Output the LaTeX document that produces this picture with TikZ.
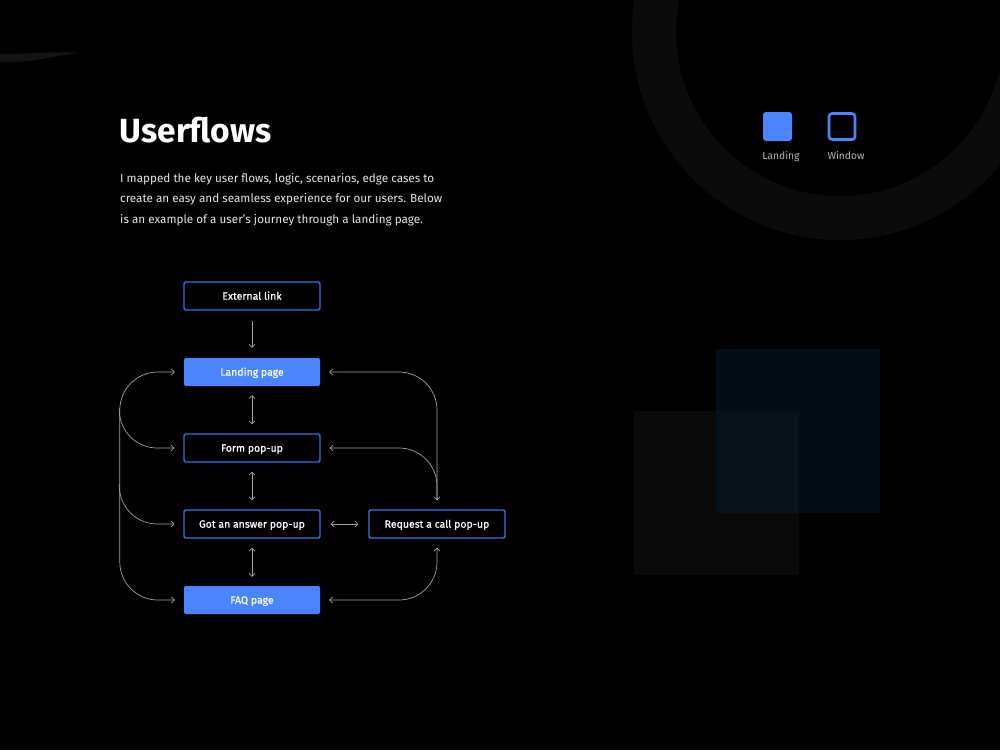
\documentclass[tikz,border=0pt]{standalone}
\usepackage{fontspec}
\setmainfont{Fira Sans}
\newfontfamily\medfont[FakeBold=0.6]{Fira Sans}
\usetikzlibrary{arrows.meta}
\definecolor{bluef}{HTML}{4A85FF}
\definecolor{blueo}{HTML}{3E72E6}
\definecolor{ringc}{HTML}{0B0B0B}
\definecolor{slivc}{HTML}{141414}
\definecolor{sqgray}{HTML}{0A0A0A}
\definecolor{sqblue}{HTML}{041A2E}
\definecolor{linec}{HTML}{A2A2A2}
\definecolor{bodyc}{HTML}{E6E6E6}
\definecolor{legc}{HTML}{B4B4B4}
\begin{document}
\begin{tikzpicture}[x=1pt,y=-1pt,
  box/.style={rectangle, minimum width=136pt, minimum height=28pt, inner sep=0pt,
    rounded corners=2pt, text=white, text height=7.4pt, text depth=0pt,
    font=\medfont\fontsize{10.5}{12}\selectfont},
  winbox/.style={box, draw=blueo, line width=1.4pt, fill=black},
  landbox/.style={box, fill=bluef},
  flow/.style={draw=linec, line width=0.7pt, rounded corners=38pt,
    arrows={-}, >={Straight Barb[length=3pt,width=6pt]}},
  bodytxt/.style={anchor=base west, inner sep=0pt, text=bodyc, font=\fontsize{11.7}{14}\selectfont},
  legtxt/.style={anchor=base, inner sep=0pt, text=legc, font=\fontsize{10.3}{12}\selectfont}
]
\useasboundingbox[fill=black] (0,0) rectangle (1000,750);
\clip (0,0) rectangle (1000,750);
% background decorations
\fill[ringc, even odd rule] (840,32) circle[radius=208pt] (840,32) circle[radius=164pt];
\fill[slivc] (0,54) to[out=0,in=178] (78,52.5) to[out=190,in=0] (0,62.5) -- cycle;
\fill[sqgray] (634,411) rectangle (799,575);
\fill[sqblue, fill opacity=0.5] (716,349) rectangle (880,513);
% legend
\node[fill=bluef, rounded corners=3pt, minimum width=29pt, minimum height=29pt, inner sep=0pt] (legL) at (777.5,126.5) {};
\node[draw=bluef, line width=2.6pt, rounded corners=3pt, minimum width=26pt, minimum height=26pt, inner sep=0pt] (legW) at (842,126.5) {};
\node[legtxt] (legLt) at (781,159.5) {Landing};
\node[legtxt] (legWt) at (846,159.5) {Window};
% title and text
\node[anchor=base west, inner sep=0pt, text=white, font=\fontsize{33.5}{38}\bfseries\selectfont] (title) at (119.5,142) {Userflows};
\node[bodytxt] (l1) at (120,182) {I mapped the key user flows, logic, scenarios, edge cases to};
\node[bodytxt] (l2) at (120,202.5) {create an easy and seamless experience for our users. Below};
\node[bodytxt] (l3) at (120,223) {is an example of a user's journey through a landing page.};
% flow nodes
\node[winbox] (ext) at (252,296) {External link};
\node[landbox] (land) at (252,372) {Landing page};
\node[winbox] (form) at (252,448) {Form pop-up};
\node[winbox] (got) at (252,524) {Got an answer pop-up};
\node[winbox] (req) at (437,524) {Request a call pop-up};
\node[landbox] (faq) at (252,600) {FAQ page};
% connectors
\draw[flow,->] ([yshift=-10pt]ext.south) -- ([yshift=10pt]land.north);
\draw[flow,<->] ([yshift=-9pt]land.south) -- ([yshift=9pt]form.north);
\draw[flow,<->] ([yshift=-9pt]form.south) -- ([yshift=9pt]got.north);
\draw[flow,<->] ([yshift=-9pt]got.south) -- ([yshift=9pt]faq.north);
\draw[flow,<->] ([xshift=10pt]got.east) -- ([xshift=-10pt]req.west);
% left loops
\draw[flow,<->] ([xshift=-9pt]land.west) -| ([xshift=-64pt]faq.west) -- ([xshift=-9pt]faq.west);
\draw[flow,->] ([xshift=-64pt,yshift=40pt]form.west) |- ([xshift=-9pt]form.west);
\draw[flow,->] ([xshift=-64pt,yshift=40pt]got.west) |- ([xshift=-9pt]got.west);
% right loops
\draw[flow,<->] ([xshift=9pt]land.east) -| ([yshift=9pt]req.north);
\draw[flow,<-] ([xshift=9pt]form.east) -| ([yshift=9pt]req.north);
\draw[flow,<->] ([xshift=9pt]faq.east) -| ([yshift=-9pt]req.south);
\end{tikzpicture}
\end{document}
